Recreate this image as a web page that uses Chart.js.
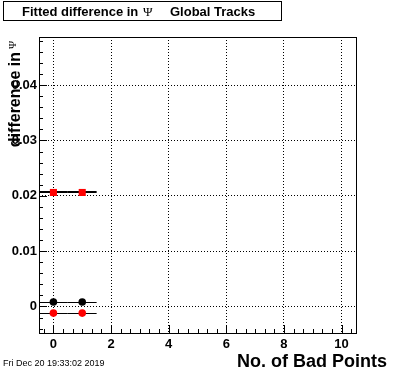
<!DOCTYPE html>
<html>
<head>
<meta charset="utf-8">
<script src="https://cdn.jsdelivr.net/npm/chart.js@4.4.0/dist/chart.umd.min.js"></script>
<style>
  html, body { margin: 0; padding: 0; background: #fff; }
  canvas { display: block; }
</style>
</head>
<body>
<canvas id="fit-chart" width="396" height="372"></canvas>
<script>
// Bins on the x axis (No. of Bad Points) and the fitted differences
const badPoints = [0, 1];
const redSquareValues = [0.0206, 0.0206];
const blackCircleValues = [0.0008, 0.0008];
const redCircleValues = [-0.0012, -0.0012];
const binHalfWidth = 0.5;

// Axis ticks
const xTickValues = [0, 2, 4, 6, 8, 10];
const xTickLabels = ['0', '2', '4', '6', '8', '10'];
const yTickValues = [0, 0.01, 0.02, 0.03, 0.04];
const yTickLabels = ['0', '0.01', '0.02', '0.03', '0.04'];

const FONT = "'Liberation Sans', Arial, Helvetica, sans-serif";

function toPoints(values) {
    return badPoints.map((b, i) => ({ x: b, y: values[i] }));
}

// Horizontal error bars (bin width), drawn under each dataset's markers
const errorBars = {
    id: 'errorBars',
    beforeDatasetDraw(chart, args) {
        const ds = chart.data.datasets[args.index];
        const { ctx, scales: { x, y } } = chart;
        ctx.save();
        ctx.strokeStyle = '#000';
        ctx.lineWidth = ds.errLineWidth;
        ds.data.forEach(p => {
            let py = Math.round(y.getPixelForValue(p.y));
            if (ds.errLineWidth % 2 === 1) py += 0.5;
            ctx.beginPath();
            ctx.moveTo(x.getPixelForValue(p.x - binHalfWidth), py);
            ctx.lineTo(x.getPixelForValue(p.x + binHalfWidth), py);
            ctx.stroke();
        });
        ctx.restore();
    }
};

// Frame, inward ticks and the texts around the pad
const frameAndTexts = {
    id: 'frameAndTexts',
    afterDraw(chart) {
        const { ctx, chartArea: a, scales: { x, y } } = chart;
        ctx.save();
        ctx.strokeStyle = '#000';
        ctx.lineWidth = 1;
        ctx.strokeRect(a.left + 0.5, a.top + 0.5, a.right - a.left, a.bottom - a.top);

        // x ticks (major every 2, minor every 1/3)
        ctx.beginPath();
        for (let k = -1; k <= 31; k++) {
            const v = k / 3;
            if (v < x.min || v > x.max) continue;
            const px = Math.round(x.getPixelForValue(v)) + 0.5;
            const len = (k % 6 === 0) ? 8 : 4;
            ctx.moveTo(px, a.bottom);
            ctx.lineTo(px, a.bottom - len);
        }
        // y ticks (major every 0.01, minor every 0.002)
        for (let k = -2; k <= 24; k++) {
            const v = k * 0.002;
            if (v < y.min || v > y.max) continue;
            const py = Math.round(y.getPixelForValue(v)) + 0.5;
            const len = (k % 5 === 0) ? 8 : 4;
            ctx.moveTo(a.left, py);
            ctx.lineTo(a.left + len, py);
        }
        ctx.stroke();

        // Title box
        ctx.fillStyle = '#fff';
        ctx.fillRect(3, 1, 279, 20);
        ctx.strokeRect(3.5, 1.5, 278, 19);
        ctx.fillStyle = '#000';
        ctx.textBaseline = 'alphabetic';
        ctx.textAlign = 'left';
        ctx.font = 'bold 13px ' + FONT;
        ctx.fillText('Fitted difference in', 22, 16);
        ctx.fillText('Global Tracks', 170, 16);
        ctx.font = "13px 'Liberation Serif', 'Times New Roman', serif";
        ctx.fillText('\u03A8', 143, 16);

        // Date stamp
        ctx.font = '9px ' + FONT;
        ctx.fillText('Fri Dec 20 19:33:02 2019', 3, 366);

        // x axis title
        ctx.textAlign = 'right';
        ctx.font = 'bold 18px ' + FONT;
        ctx.fillText('No. of Bad Points', 387, 367);

        // y axis title
        ctx.translate(20, 0);
        ctx.rotate(-Math.PI / 2);
        ctx.font = 'bold 16px ' + FONT;
        ctx.fillText('difference in', -52, 0);
        ctx.font = "11px 'Liberation Serif', 'Times New Roman', serif";
        ctx.fillText('\u03A8', -41, -4);
        ctx.restore();
    }
};

const chart = new Chart(document.getElementById('fit-chart'), {
    type: 'scatter',
    data: {
        datasets: [
            {
                label: 'red squares',
                data: toPoints(redSquareValues),
                pointStyle: 'rect',
                pointRadius: 5,
                backgroundColor: '#ff0000',
                borderWidth: 0,
                errLineWidth: 2
            },
            {
                label: 'red circles',
                data: toPoints(redCircleValues),
                pointStyle: 'circle',
                pointRadius: 3.8,
                backgroundColor: '#ff0000',
                borderWidth: 0,
                errLineWidth: 1
            },
            {
                label: 'black circles',
                data: toPoints(blackCircleValues),
                pointStyle: 'circle',
                pointRadius: 3.8,
                backgroundColor: '#000000',
                borderWidth: 0,
                errLineWidth: 1
            }
        ]
    },
    options: {
        responsive: false,
        animation: false,
        events: [],
        layout: { padding: { left: 0, top: 37, right: 40, bottom: 0 } },
        plugins: {
            legend: { display: false },
            tooltip: { enabled: false }
        },
        scales: {
            x: {
                type: 'linear',
                min: -0.5,
                max: 10.5,
                afterFit(scale) { scale.height = 39; },
                afterBuildTicks(scale) { scale.ticks = xTickValues.map(v => ({ value: v })); },
                grid: { color: '#000', lineWidth: 1, drawTicks: false },
                border: { display: false, dash: [1, 2] },
                ticks: {
                    autoSkip: false,
                    maxRotation: 0,
                    padding: 4,
                    color: '#000',
                    font: { family: FONT, size: 13, weight: 'bold' },
                    callback: (v) => xTickLabels[xTickValues.indexOf(v)]
                }
            },
            y: {
                type: 'linear',
                min: -0.0048,
                max: 0.0487,
                afterFit(scale) { scale.width = 39; },
                afterBuildTicks(scale) { scale.ticks = yTickValues.map(v => ({ value: v })); },
                grid: { color: '#000', lineWidth: 1, drawTicks: false },
                border: { display: false, dash: [1, 2] },
                ticks: {
                    autoSkip: false,
                    padding: 2,
                    color: '#000',
                    font: { family: FONT, size: 13, weight: 'bold' },
                    callback: (v) => yTickLabels[yTickValues.indexOf(v)]
                }
            }
        }
    },
    plugins: [errorBars, frameAndTexts]
});
</script>
</body>
</html>
